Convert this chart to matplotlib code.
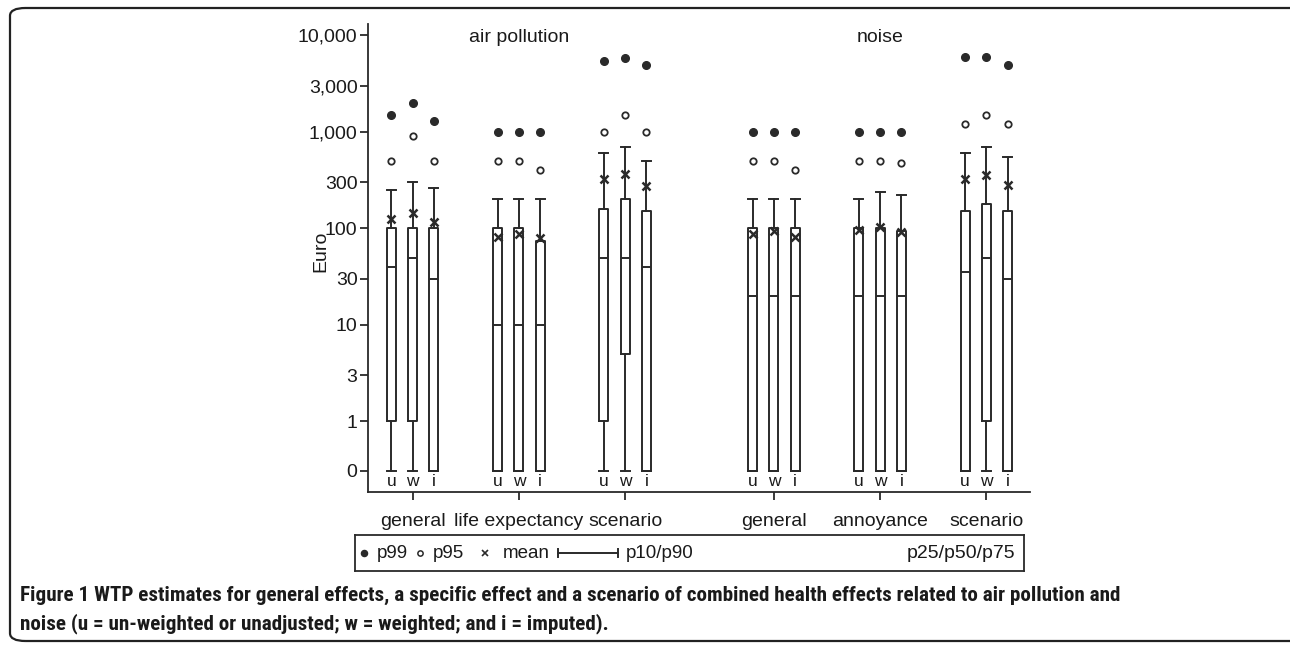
import numpy as np
import matplotlib
matplotlib.use('Agg')
import matplotlib.pyplot as plt
from matplotlib import font_manager
from matplotlib.patches import FancyBboxPatch

plt.rcParams['font.family'] = ['Liberation Sans', 'DejaVu Sans']

# ---------------- data ----------------
categories = ['general', 'life expectancy', 'scenario', 'general', 'annoyance', 'scenario']
domains = ['air pollution', 'noise']
variants = ['u', 'w', 'i']

# one row per category, columns = u, w, i
p10 = [[0, 0, 0], [0, 0, 0], [0, 0, 0], [0, 0, 0], [0, 0, 0], [0, 0, 0]]
p25 = [[1, 1, 0], [0, 0, 0], [1, 5, 0], [0, 0, 0], [0, 0, 0], [0, 1, 0]]
p50 = [[40, 50, 30], [10, 10, 10], [50, 50, 40], [20, 20, 20], [20, 20, 20], [35, 50, 30]]
p75 = [[100, 100, 100], [100, 100, 75], [160, 200, 150], [100, 100, 100], [100, 100, 95], [150, 180, 150]]
p90 = [[250, 300, 260], [200, 200, 200], [600, 700, 500], [200, 200, 200], [200, 240, 220], [600, 700, 550]]
mean = [[125, 145, 118], [82, 88, 80], [325, 370, 275], [88, 95, 82], [96, 103, 92], [325, 355, 280]]
p95 = [[500, 900, 500], [500, 500, 400], [1000, 1500, 1000], [500, 500, 400], [500, 500, 480], [1200, 1500, 1200]]
p99 = [[1500, 2000, 1300], [1000, 1000, 1000], [5500, 5800, 5000], [1000, 1000, 1000], [1000, 1000, 1000], [6000, 6000, 5000]]

ytick_values = [0, 1, 3, 10, 30, 100, 300, 1000, 3000, 10000]
ytick_labels = ['0', '1', '3', '10', '30', '100', '300', '1,000', '3,000', '10,000']

caption1 = ('Figure 1 WTP estimates for general effects, a specific effect and a scenario of '
            'combined health effects related to air pollution and')
caption2 = 'noise (u = un-weighted or unadjusted; w = weighted; and i = imputed).'

# ---------------- layout / style ----------------
ZERO = 10 ** -0.513          # where the value 0 is drawn on the log axis
group_pos = np.array([0, 1, 2, 3.4, 4.4, 5.4])
offsets = np.array([-0.2, 0.0, 0.2])
BW = 0.085
LC = '#2a2a2a'
TC = '#1a1a1a'


def z(v):
    v = np.asarray(v, dtype=float)
    return np.where(v <= 0, ZERO, v)


W, H = 1290, 647
fig = plt.figure(figsize=(W / 100, H / 100), dpi=100)
ax = fig.add_axes([368 / W, 1 - 492 / H, (1030 - 368) / W, (492 - 24) / H])

stats, positions = [], []
for c in range(len(categories)):
    for k in range(3):
        stats.append(dict(med=float(z(p50[c][k])), q1=float(z(p25[c][k])), q3=float(z(p75[c][k])),
                          whislo=float(z(p10[c][k])), whishi=float(z(p90[c][k])), fliers=[]))
        positions.append(group_pos[c] + offsets[k])
positions = np.array(positions)

ax.set_yscale('log')
ax.bxp(stats, positions=positions, widths=BW, capwidths=BW, showfliers=False,
       boxprops=dict(color=LC, lw=1.4), whiskerprops=dict(color=LC, lw=1.4),
       capprops=dict(color=LC, lw=1.4), medianprops=dict(color=LC, lw=1.4))

ax.plot(positions, z(np.ravel(p99)), 'o', ms=5.5, color=LC, ls='none', zorder=5)
ax.plot(positions, z(np.ravel(p95)), 'o', ms=4.6, mfc='white', mec=LC, mew=1.3, ls='none', zorder=5)
ax.plot(positions, z(np.ravel(mean)), 'x', ms=5.5, color=LC, mew=1.8, ls='none', zorder=6)

for p, lab in zip(positions, variants * len(categories)):
    ax.annotate(lab, (p, ZERO), xytext=(0, -2), textcoords='offset points',
                ha='center', va='top', fontsize=12.5, color=TC)

ax.set_xlim(-0.42, 5.81)
ax.set_ylim(10 ** -0.731, 10 ** 4.119)
ax.set_yticks(z(ytick_values))
ax.set_yticklabels(ytick_labels)
ax.yaxis.set_minor_locator(matplotlib.ticker.NullLocator())
ax.set_xticks(group_pos)
ax.set_xticklabels(categories)
ax.tick_params(axis='both', colors=LC, labelcolor=TC, labelsize=14, length=6, width=1.3)
ax.tick_params(axis='x', pad=9)
ax.tick_params(axis='y', pad=1.5)
for s in ['top', 'right']:
    ax.spines[s].set_visible(False)
for s in ['left', 'bottom']:
    ax.spines[s].set_color(LC)
    ax.spines[s].set_linewidth(1.3)

ax.text(group_pos[1], 0.972, domains[0], transform=ax.get_xaxis_transform(),
        ha='center', va='center', fontsize=14, color=TC)
ax.text(group_pos[4], 0.972, domains[1], transform=ax.get_xaxis_transform(),
        ha='center', va='center', fontsize=14, color=TC)

fig.text(321 / W, 1 - 251 / H, 'Euro', rotation=90, ha='center', va='center', fontsize=14, color=TC)

# ---------------- legend box ----------------
lx0, lx1, ly0, ly1 = 355, 1024, 535, 571
lax = fig.add_axes([lx0 / W, 1 - ly1 / H, (lx1 - lx0) / W, (ly1 - ly0) / H])
lax.set_xlim(lx0, lx1)
lax.set_ylim(0, ly1 - ly0)
lax.set_xticks([])
lax.set_yticks([])
for s in lax.spines.values():
    s.set_color(LC)
    s.set_linewidth(1.3)
yc = 18
LFS = 13.5
lax.plot([364], [yc], 'o', ms=4.4, color=LC)
lax.text(377, yc, 'p99', va='center', ha='left', fontsize=LFS, color=TC)
lax.plot([420], [yc], 'o', ms=3.8, mfc='white', mec=LC, mew=1.1)
lax.text(433, yc, 'p95', va='center', ha='left', fontsize=LFS, color=TC)
lax.plot([485], [yc], 'x', ms=4.5, color=LC, mew=1.2)
lax.text(503, yc, 'mean', va='center', ha='left', fontsize=LFS, color=TC)
lax.plot([558, 618], [yc, yc], color=LC, lw=1.4)
lax.plot([558, 558], [yc - 4, yc + 4], color=LC, lw=1.4)
lax.plot([618, 618], [yc - 4, yc + 4], color=LC, lw=1.4)
lax.text(626, yc, 'p10/p90', va='center', ha='left', fontsize=LFS, color=TC)
lax.text(1015, yc, 'p25/p50/p75', va='center', ha='right', fontsize=14, color=TC)

# ---------------- caption and frame ----------------
cap_family = 'Liberation Sans'
for name in ['Liberation Sans Narrow', 'Roboto Condensed', 'DejaVu Sans Condensed', 'Open Sans Condensed']:
    try:
        font_manager.findfont(font_manager.FontProperties(family=name), fallback_to_default=False)
        cap_family = name
        break
    except Exception:
        pass
cap_font = [cap_family, 'DejaVu Sans']
t1 = fig.text(20 / W, 1 - 595 / H, caption1, ha='left', va='center', fontsize=14,
              fontweight='bold', family=cap_font, color=TC)
t2 = fig.text(20 / W, 1 - 624 / H, caption2, ha='left', va='center', fontsize=14,
              fontweight='bold', family=cap_font, color=TC)
fig.canvas.draw()
bb = t1.get_window_extent(renderer=fig.canvas.get_renderer())
fs = 14 * (1106 / bb.width)
t1.set_fontsize(fs)
t2.set_fontsize(fs)

frame = FancyBboxPatch((10 / W, 1 - 641 / H), (1310 - 10) / W, (641 - 8) / H,
                       boxstyle='round,pad=0,rounding_size=0.012', transform=fig.transFigure,
                       fill=False, ec='#222222', lw=1.6, clip_on=False)
fig.add_artist(frame)

fig.savefig('out.png', dpi=100)
